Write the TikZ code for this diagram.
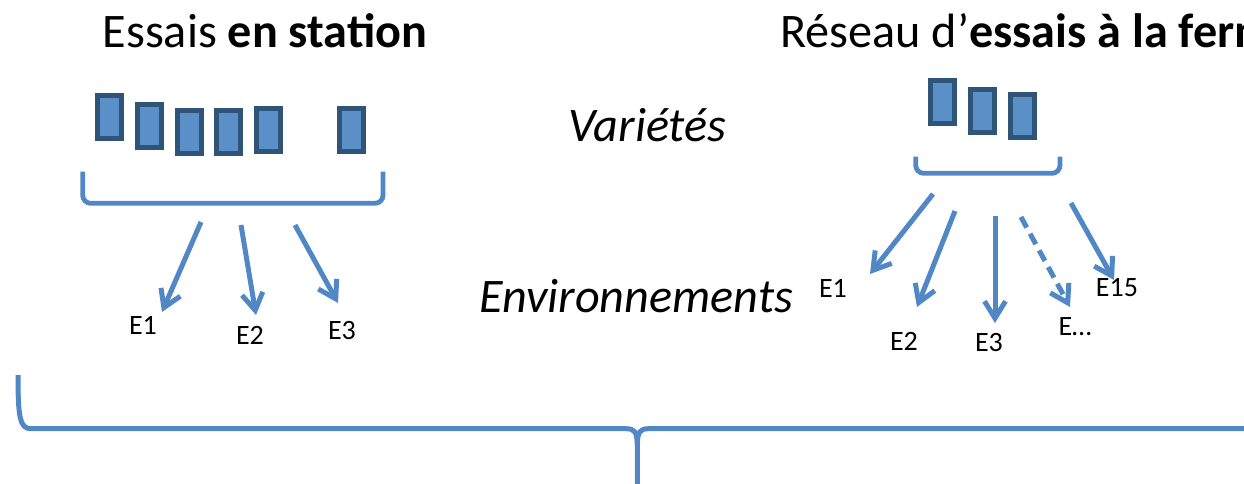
\documentclass[tikz,border=0pt]{standalone}
\usepackage{fontspec}
\setmainfont{Carlito}
\usetikzlibrary{arrows.meta, positioning}
\definecolor{linkblue}{RGB}{80,135,196}
\definecolor{boxfill}{RGB}{90,143,199}
\definecolor{boxline}{RGB}{46,84,119}
\newcommand{\bracketU}[4]
{
	\draw[bracket] (#1,#3) -- (#1,#4) -- (#2,#4) -- (#2,#3)
}

\begin{document}
\begin{tikzpicture}[x=0.5pt, y=-0.5pt,
			var/.style={shape=rectangle,
				draw=boxline, fill=boxfill,
				line width=2.5pt,
				inner sep=0,
			minimum width=12pt,
			minimum height=21.5pt},
			bracket/.style={draw=linkblue, line width=2.4pt, rounded corners=4pt},
			env/.style={draw=linkblue, line width=2.5pt,
				-{Straight Barb[length=8.5pt, width=10.5pt]}},
			lbl/.style={inner sep=0, font=\fontsize{14}{16}\selectfont},
			title/.style={inner sep=0, font=\fontsize{24.1}{28}\selectfont}]

			\useasboundingbox (0,0) rectangle (1244,483);

			% titres
			\node[title, anchor=base] at (265,47.7) (tstation){Essais \textbf{en station}};
			\node[title, anchor=base west] at (780,47.7) (tferme){Réseau d’\textbf{essais à la ferme}};
			\node[title, anchor=base] at (647.5,141.7) (tvar){\itshape Variétés};
			\node[title, anchor=base] at (636,312.7) (tenv){\itshape Environnements};

			% varietes en station
			\node[var] at (109.5,117) (v1){};
			\node[var] at (149,126) (v2){};
			\node[var] at (189,131.7) (v3){};
			\node[var] at (228.3,132.3) (v4){};
			\node[var] at (268.3,129.7) (v5){};
			\node[var] at (351,130.3) (v6){};

			% varietes a la ferme
			\node[var] at (942.7,102.3) (w1){};
			\node[var] at (982.3,111) (w2){};
			\node[var] at (1022,116.3) (w3){};

			\bracketU{82.7}{383}{171.7}{203.3};
			\bracketU{915.7}{1060}{156.7}{173.3};

			% environnements
			\node[lbl] at (143,325) (le1){E1};
			\node[lbl] at (250,335) (le2){E2};
			\node[lbl] at (342,331) (le3){E3};

			\node[lbl] at (833,288.5) (re1){E1};
			\node[lbl] at (904,341) (re2){E2};
			\node[lbl] at (989,343) (re3){E3};
			\node[lbl] at (1075,326.5) (redots){E…};
			\node[lbl] at (1117,287.5) (re15){E15};

			\coordinate (ls1) at (201,222);
			\coordinate (ls2) at (241,225);
			\coordinate (ls3) at (295,225);
			\coordinate (lt1) at (162,312);
			\coordinate (lt2) at (256,315);
			\coordinate (lt3) at (338,303);

			\coordinate (rs1) at (933,194);
			\coordinate (rs2) at (955,211);
			\coordinate (rs3) at (995,216);
			\coordinate (rs4) at (1021,217);
			\coordinate (rs5) at (1071,203);
			\coordinate (rt1) at (870,274);
			\coordinate (rt2) at (917,307);
			\coordinate (rt3) at (995,323);
			\coordinate (rt4) at (1070,307);
			\coordinate (rt5) at (1114,280);

			\draw[env] (ls1) -- (lt1);
			\draw[env] (ls2) -- (lt2);
			\draw[env] (ls3) -- (lt3);

			\draw[env] (rs1) -- (rt1);
			\draw[env] (rs2) -- (rt2);
			\draw[env] (rs3) -- (rt3);
			\draw[env, dash pattern=on 6pt off 3.5pt] (rs4) -- (rt4);
			\draw[env] (rs5) -- (rt5);

			% grande accolade
			\draw[draw=linkblue, line width=2.5pt]
				(18,375) .. controls (18,418) and (20,428.7) .. (31,428.7)
				-- (626,428.7) .. controls (634,428.7) and (637.3,431) .. (637.3,446)
				-- (637.3,490);
			\draw[draw=linkblue, line width=2.5pt]
				(637.3,446) .. controls (637.3,431) and (640.6,428.7) .. (648.6,428.7)
				-- (1243.6,428.7) .. controls (1254.6,428.7) and (1256.6,418) .. (1256.6,375);
		\end{tikzpicture}
\end{document}
